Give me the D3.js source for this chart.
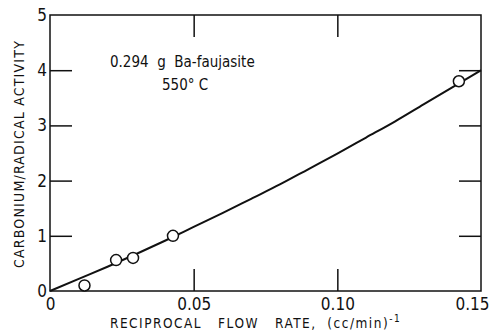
<!DOCTYPE html>
<html>
<head>
<meta charset="utf-8">
<script src="https://cdn.jsdelivr.net/npm/d3@7"></script>
<style>
  body { margin: 0; background: #fff; }
  svg text { fill: #111; font-family: "Liberation Sans Narrow", "DejaVu Sans Condensed", "Liberation Sans", sans-serif; }
</style>
</head>
<body>
<svg id="chart"></svg>
<script>
// measured points
var flowX = [0.012, 0.023, 0.0289, 0.0428, 0.1423];
var activityY = [0.1, 0.56, 0.6, 1.0, 3.8];

// fitted curve as drawn in the figure
var curveX = [0, 0.01, 0.02, 0.03, 0.04, 0.05, 0.06, 0.07, 0.08, 0.09, 0.10, 0.11, 0.12, 0.13, 0.14, 0.15];
var curveY = [0, 0.22, 0.44, 0.67, 0.91, 1.16, 1.41, 1.67, 1.93, 2.21, 2.49, 2.78, 3.07, 3.38, 3.69, 4.0];

var xTicks = [0, 0.05, 0.10, 0.15];
var xTickLabels = ["0", "0.05", "0.10", "0.15"];
var yTicks = [0, 1, 2, 3, 4, 5];

const margin = {top: 15, right: 10, bottom: 43, left: 50},
  width = 491 - margin.left - margin.right,
  height = 334 - margin.top - margin.bottom,
  tickLen = 22;

const svg = d3.select("#chart")
  .attr("width", 491)
  .attr("height", 334);

const g = svg.append("g")
  .attr("transform", "translate(" + margin.left + "," + margin.top + ")");

const x = d3.scaleLinear().domain([0, 0.15]).range([0, width]);
const y = d3.scaleLinear().domain([0, 5]).range([height, 0]);

// frame
g.append("rect")
  .attr("width", width)
  .attr("height", height)
  .attr("fill", "none")
  .attr("stroke", "#111")
  .attr("stroke-width", 1.5);

// bottom axis (inward ticks)
const xAxis = d3.axisBottom(x)
  .tickValues(xTicks)
  .tickSize(-tickLen)
  .tickPadding(7)
  .tickFormat((d, i) => xTickLabels[i]);
g.append("g")
  .attr("transform", "translate(0," + height + ")")
  .call(xAxis)
  .call(a => a.select(".domain").remove())
  .call(a => a.selectAll(".tick line").attr("stroke", "#111").attr("stroke-width", 1.5)
    .attr("display", (d) => (d === 0 || d === 0.15) ? "none" : null))
  .call(a => a.selectAll(".tick text").attr("font-size", 17).attr("fill", "#111")
    .attr("dx", (d) => d === 0.15 ? -9 : 0));

// top axis, ticks only
g.append("g")
  .call(d3.axisTop(x).tickValues([0.05, 0.10]).tickSize(-tickLen).tickFormat(""))
  .call(a => a.select(".domain").remove())
  .call(a => a.selectAll(".tick line").attr("stroke", "#111").attr("stroke-width", 1.5));

// left axis
const yAxis = d3.axisLeft(y)
  .tickValues(yTicks)
  .tickSize(-tickLen)
  .tickPadding(3)
  .tickFormat(d3.format("d"));
g.append("g")
  .call(yAxis)
  .call(a => a.select(".domain").remove())
  .call(a => a.selectAll(".tick line").attr("stroke", "#111").attr("stroke-width", 1.5)
    .attr("display", (d) => (d === 0 || d === 5) ? "none" : null))
  .call(a => a.selectAll(".tick text").attr("font-size", 17).attr("fill", "#111"));

// right axis, ticks only
g.append("g")
  .attr("transform", "translate(" + width + ",0)")
  .call(d3.axisRight(y).tickValues([1, 2, 3, 4]).tickSize(-tickLen).tickFormat(""))
  .call(a => a.select(".domain").remove())
  .call(a => a.selectAll(".tick line").attr("stroke", "#111").attr("stroke-width", 1.5));

// curve
const curvePts = curveX.map((d, i) => [d, curveY[i]]);
const line = d3.line()
  .x((d) => x(d[0]))
  .y((d) => y(d[1]))
  .curve(d3.curveMonotoneX);
g.append("path")
  .datum(curvePts)
  .attr("d", line)
  .attr("fill", "none")
  .attr("stroke", "#111")
  .attr("stroke-width", 2);

// points
const pts = flowX.map((d, i) => ({x: d, y: activityY[i]}));
g.selectAll(".pt")
  .data(pts)
  .enter()
  .append("circle")
  .attr("class", "pt")
  .attr("cx", (d) => x(d.x))
  .attr("cy", (d) => y(d.y))
  .attr("r", 5.5)
  .attr("fill", "#fff")
  .attr("stroke", "#111")
  .attr("stroke-width", 1.5);

// annotation
svg.append("text")
  .attr("x", 110)
  .attr("y", 67)
  .attr("font-size", 15)
  .attr("xml:space", "preserve")
  .text("0.294  g  Ba-faujasite");
svg.append("text")
  .attr("x", 162)
  .attr("y", 90)
  .attr("font-size", 15)
  .attr("xml:space", "preserve")
  .text("550° C");

// axis titles
svg.append("text")
  .attr("transform", "translate(24," + 154 + ") rotate(-90)")
  .attr("text-anchor", "middle")
  .attr("font-size", 14)
  .attr("letter-spacing", 1.2)
  .text("CARBONIUM/RADICAL ACTIVITY");

const xt = svg.append("text")
  .attr("x", 110)
  .attr("y", 328)
  .attr("font-size", 13.5)
  .attr("letter-spacing", 1.5)
  .attr("xml:space", "preserve");
xt.append("tspan").text("RECIPROCAL   FLOW   RATE,  (cc/min)");
xt.append("tspan").attr("dy", -6).attr("font-size", 10).text("-1");
</script>
</body>
</html>
